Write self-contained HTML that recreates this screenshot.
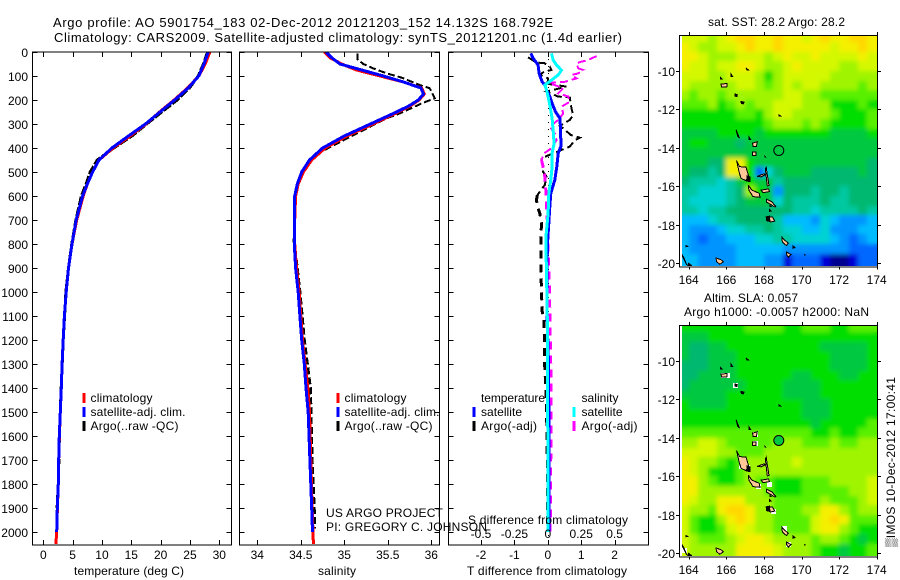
<!DOCTYPE html>
<html lang="en">
<head>
<meta charset="utf-8">
<title>Argo profile 5901754_183</title>
<style>
html,body{margin:0;padding:0;background:#fff;}
svg{display:block;}
text{font-family:"Liberation Sans",Arial,sans-serif;font-size:12px;fill:#000;}
</style>
</head>
<body>
<svg id="fig" xmlns="http://www.w3.org/2000/svg" width="900" height="580" viewBox="0 0 900 580">
<rect x="0" y="0" width="900" height="580" fill="#fff"/>
<defs>
<clipPath id="clip-map1"><rect x="682" y="35" width="195.3" height="231"/></clipPath>
<clipPath id="clip-map2"><rect x="682" y="325" width="195.3" height="231"/></clipPath>
<clipPath id="clip-box1"><rect x="32" y="52" width="199" height="493"/></clipPath>
<clipPath id="clip-box2"><rect x="239" y="52" width="200" height="493"/></clipPath>
<clipPath id="clip-box3"><rect x="448" y="52" width="200" height="493"/></clipPath>
<filter id="smooth" x="-5%" y="-5%" width="110%" height="110%"><feGaussianBlur stdDeviation="2.5"/></filter>
</defs>
<text x="53" y="27" style="font-size:13px" textLength="500" lengthAdjust="spacing">Argo profile: AO 5901754_183 02-Dec-2012 20121203_152 14.132S 168.792E</text>
<text x="54" y="42" style="font-size:13px" textLength="568" lengthAdjust="spacing">Climatology: CARS2009. Satellite-adjusted climatology: synTS_20121201.nc (1.4d earlier)</text>
<g id="layer-data"></g>
<text x="74" y="575" textLength="110" lengthAdjust="spacing">temperature (deg C)</text>
<text x="318" y="575" textLength="38" lengthAdjust="spacing">salinity</text>
<text x="467" y="575" textLength="160" lengthAdjust="spacing">T difference from climatology</text>
<text x="468" y="524" textLength="160" lengthAdjust="spacing">S difference from climatology</text>
<text x="326" y="517" textLength="117" lengthAdjust="spacing">US ARGO PROJECT</text>
<text x="326" y="531" textLength="161" lengthAdjust="spacing">PI: GREGORY C. JOHNSON</text>

<g>
<rect x="82.5" y="393" width="3" height="10" fill="#ff0000"/>
<rect x="82.5" y="407" width="3" height="10" fill="#0000ff"/>
<rect x="82.5" y="421" width="3" height="10" fill="#000"/>
<text x="90.5" y="402" textLength="62" lengthAdjust="spacing">climatology</text>
<text x="90.5" y="416" textLength="95" lengthAdjust="spacing">satellite-adj. clim.</text>
<text x="90.5" y="430" textLength="88" lengthAdjust="spacing">Argo(..raw -QC)</text>
</g>
<g>
<rect x="336.5" y="393" width="3" height="10" fill="#ff0000"/>
<rect x="336.5" y="407" width="3" height="10" fill="#0000ff"/>
<rect x="336.5" y="421" width="3" height="10" fill="#000"/>
<text x="344.5" y="402" textLength="62" lengthAdjust="spacing">climatology</text>
<text x="344.5" y="416" textLength="95" lengthAdjust="spacing">satellite-adj. clim.</text>
<text x="344.5" y="430" textLength="88" lengthAdjust="spacing">Argo(..raw -QC)</text>
</g>
<g>
<text x="481" y="402" textLength="64" lengthAdjust="spacing">temperature</text>
<rect x="472.5" y="407" width="3" height="10" fill="#0000ff"/>
<rect x="472.5" y="421" width="3" height="10" fill="#000"/>
<text x="481" y="416" textLength="41" lengthAdjust="spacing">satellite</text>
<text x="481" y="430" textLength="56" lengthAdjust="spacing">Argo(-adj)</text>
<text x="581.5" y="402" textLength="37" lengthAdjust="spacing">salinity</text>
<rect x="572.5" y="407" width="3" height="10" fill="#00ffff"/>
<rect x="572.5" y="421" width="3" height="10" fill="#ff00ff"/>
<text x="581.5" y="416" textLength="41" lengthAdjust="spacing">satellite</text>
<text x="581.5" y="430" textLength="56" lengthAdjust="spacing">Argo(-adj)</text>
</g>

<text x="708" y="26" textLength="137" lengthAdjust="spacing">sat. SST: 28.2 Argo: 28.2</text>
<text x="704" y="302" textLength="94" lengthAdjust="spacing">Altim. SLA: 0.057</text>
<text x="684" y="316" textLength="185" lengthAdjust="spacing">Argo h1000: -0.0057 h2000: NaN</text>
<text transform="translate(895,547) rotate(-90)" textLength="170" lengthAdjust="spacing">▒IMOS 10-Dec-2012 17:00:41</text>
</svg>

<script>
// ---- profile data ----
const depthTicks = [0,100,200,300,400,500,600,700,800,900,1000,1100,1200,1300,1400,1500,1600,1700,1800,1900,2000];
const tempTicks = [0,5,10,15,20,25,30];
const salTicks = [34,34.5,35,35.5,36];
const salTickLabels = ['34','34.5','35','35.5','36'];
const tDiffTicks = [-2,-1,0,1,2];
const tDiffTickLabels = ['-2','-1','0','1','2'];
const sDiffTicks = [-0.5,-0.25,0,0.25,0.5];
const sDiffTickLabels = ['-0.5','-0.25','0','0.25','0.5'];

const tempDepth = [0,50,100,150,200,250,300,350,400,450,500,550,600,700,800,900,1000,1100,1200,1300,1400,1500,1600,1700,1800,1900,2000,2050];
const tempClim = [28.4,27.6,26.5,24.6,22.3,19.8,17.5,14.8,11.9,9.5,8.4,7.5,6.8,5.7,4.9,4.3,3.9,3.6,3.4,3.2,3.07,2.9,2.75,2.62,2.55,2.4,2.28,2.15];
const tempSat = [28.1,27.4,26.5,24.7,22.4,19.9,17.4,14.5,11.7,9.5,8.4,7.5,6.7,5.6,4.9,4.3,3.9,3.6,3.4,3.2,3.07,2.9,2.73,2.62,2.55,2.39,2.28];
const tempArgoDepth = [0,50,100,150,200,250,300,350,400,450,500,550,600,700,800,900,1000,1200,1400,1600,1800,1900];
const tempArgo = [28,27.3,26.4,24.9,22.8,20.2,17.6,15.1,12,9.2,8,7.3,6.5,5.55,4.85,4.3,3.85,3.4,3.05,2.75,2.55,2.35];

const salDepth = [0,25,50,75,100,125,150,175,200,225,250,300,350,400,450,500,550,600,700,800,900,1000,1100,1200,1300,1400,1500,1700,1900,2000,2050];
const salClim = [34.77,34.84,34.97,35.14,35.41,35.68,35.89,35.92,35.86,35.755,35.62,35.33,35.03,34.78,34.625,34.53,34.47,34.44,34.43,34.43,34.45,34.48,34.5,34.52,34.55,34.58,34.6,34.615,34.63,34.64,34.645];
const salSat = [34.79,34.86,34.95,35.2,35.45,35.68,35.88,35.91,35.85,35.74,35.6,35.3,35,34.75,34.6,34.51,34.46,34.43,34.425,34.425,34.44,34.47,34.49,34.51,34.54,34.56,34.585,34.605,34.625,34.635];
const salArgoDepth = [6,30,50,68,89,107,138,151,193,214,256,276,353,422,464,533,617,776];
const salArgo = [35.15,35.15,35.22,35.33,35.49,35.66,35.87,35.98,36.04,35.89,35.64,35.49,35.07,34.7,34.59,34.48,34.42,34.42];
const salArgoDeepDepth = [776,1000,1200,1400,1700,1950,1985];
const salArgoDeep = [34.42,34.49,34.54,34.61,34.63,34.66,34.66];

const tSatDepth = [6,26,54,89,124,138,158,186,214,249,276,311,367,394,422,478,533,589,644,714,776,900,1100,1300,1500,1700,1900,2000];
const tSatDiff = [-0.51,-0.44,-0.29,-0.26,-0.17,-0.09,-0.04,0.06,0.13,0.23,0.36,0.38,0.39,0.39,0.31,0.27,0.21,0.09,0.06,0.03,0.0,-0.03,-0.02,0.02,0.03,0.03,0.03,0.03];
const sSatDepth = [6,33,54,76,96,117,138,158,186,228,276,325,381,422,478,533,589,672,776,992,1158,1367,1600,1800,2000];
const sSatDiff = [0.0275,0.04,0.065,0.1025,0.078,0.0275,-0.0225,-0.01,0.0025,0.0175,0.0325,0.04,0.0475,0.0325,0.0325,0.0225,0.0075,0.0025,-0.015,-0.0075,-0.0025,-0.0025,0,0,0];
const tArgoDepth = [22,44,46,61,75,82,96,110,124,131,144,165,186,189,235,263,283,308,318,346,357,367,394,422,443,499,519,554,596];
const tArgoDiff = [-0.59,-0.34,-0.11,0.06,0.11,-0.11,-0.24,0.01,0.01,-0.09,0.56,-0.04,0.31,0.66,0.71,0.76,0.66,0.36,0.46,0.69,0.96,0.81,0.66,0.16,-0.19,-0.14,-0.04,-0.09,-0.31];
const tArgoDeepDepth = [596,617,651,672,714,776,900,1079,1117,1325,1367,1500,1600,1700,2000];
const tArgoDeepDiff = [-0.31,-0.34,-0.29,-0.24,-0.19,-0.21,-0.21,-0.17,-0.11,-0.09,-0.07,-0.04,-0.02,-0.015,0];
const sArgoDepth = [17,36,40,47,68,75,89,96,110,124,128,151,172,186,207,228,256,283,311,339,367,401,422,450];
const sArgoDiff = [0.365,0.29,0.2525,0.215,0.2275,0.265,0.2275,0.1775,0.215,0.1275,0.0025,0.115,0.0775,0.1525,0.165,0.1025,0.115,0.0775,0.015,0.0525,0.065,0.0275,-0.0275,-0.0475];
const sArgoDeepDepth = [450,478,519,575,644,714,776,992,1158,1367,1600,1800,2000];
const sArgoDeepDiff = [-0.0475,-0.035,-0.0225,-0.015,-0.01,-0.0025,0,0.0125,0.0175,0.025,0.024,0.02,0.018];

// ---- map data ----
const lonTicks = [164,166,168,170,172,174];
const latTicks = [-10,-12,-14,-16,-18,-20];
const mapCellLons = [163.5,164,164.5,165,165.5,166,166.5,167,167.5,168,168.5,169,169.5,170,170.5,171,171.5,172,172.5,173,173.5,174];
const mapCellLats = [-8,-8.5,-9,-9.5,-10,-10.5,-11,-11.5,-12,-12.5,-13,-13.5,-14,-14.5,-15,-15.5,-16,-16.5,-17,-17.5,-18,-18.5,-19,-19.5,-20.5];
const sstRows = [
[12,12,12,11,12,13,14,14,13,13,14,13,13,12,13,14,13,13,14,14,13],
[13,12,11,11,12,12,13,14,13,13,14,13,13,13,13,13,12,13,13,14,13],
[13,13,12,11,11,11,12,12,12,11,12,13,12,12,13,12,12,12,12,13,12],
[13,12,12,11,12,12,13,13,12,11,11,12,13,12,12,12,12,11,11,12,12],
[12,12,12,11,11,12,12,12,11,9,11,12,12,12,12,12,11,11,11,11,11],
[12,11,11,11,11,11,12,12,11,10,11,12,11,12,12,11,11,11,11,10,11],
[11,10,11,11,10,11,11,11,11,11,11,12,12,11,11,10,10,10,10,10,10],
[10,10,10,11,9,10,11,10,11,11,12,12,12,11,11,11,9,9,9,10,9],
[9,9,9,9,9,9,10,10,9,11,12,12,11,11,11,11,10,9,9,9,10],
[9,9,9,9,9,9,9,9,9,10,11,11,11,10,11,10,9,9,9,9,10],
[8,8,8,8,9,9,9,9,8,9,9,9,9,9,9,9,8,8,8,8,9],
[8,9,9,8,8,8,7,8,8,8,8,8,8,8,8,8,8,8,8,8,8],
[8,8,8,8,8,8,8,8,8,8,8,8,8,8,8,8,8,8,8,8,8],
[8,8,8,7,7,13,13,9,8,8,8,8,8,8,8,8,8,8,8,8,7],
[8,7,7,6,7,13,13,9,2,5,7,8,8,8,7,7,7,7,7,8,7],
[7,6,6,6,5,6,8,9,8,8,6,7,7,7,7,7,7,7,7,7,7],
[6,6,5,5,5,6,7,11,9,8,3,7,7,7,6,7,7,6,7,7,7],
[6,5,5,5,5,6,7,8,8,8,5,7,6,6,6,7,6,6,7,7,7],
[6,6,5,6,6,7,7,7,7,7,7,7,6,6,5,6,6,6,6,7,6],
[4,4,4,5,6,6,7,7,7,7,6,4,4,4,3,5,4,3,3,3,4],
[4,3,3,3,4,5,5,6,6,7,6,5,5,4,4,5,3,3,3,4,4],
[4,3,2,3,3,4,4,4,5,5,6,6,5,5,5,5,4,3,2,3,4],
[4,3,3,3,3,3,4,4,4,4,4,3,3,3,3,3,3,3,2,2,2],
[4,4,3,3,3,3,4,4,4,3,3,1,2,2,2,1,0,0,1,2,2]
];
const slaRows = [
[9,9,9,9,9,9,9,10,10,10,10,9,9,10,10,10,9,9,10,10,10],
[8,8,8,9,9,9,9,9,9,9,9,9,9,9,9,9,9,9,9,9,9],
[8,7,7,8,8,9,9,9,9,9,9,9,9,9,9,8,8,8,8,8,9],
[8,7,7,8,8,8,9,9,9,9,9,9,9,9,9,9,8,8,8,8,9],
[7,7,7,8,8,8,9,9,9,9,9,9,9,9,9,9,8,8,8,8,9],
[7,7,8,8,8,8,9,9,9,9,9,9,8,8,9,9,9,8,8,9,9],
[7,8,8,8,8,8,8,9,9,9,9,8,8,8,8,9,9,9,9,9,9],
[8,8,8,8,8,9,9,9,9,9,9,8,8,8,8,9,9,9,9,9,9],
[9,8,8,8,8,9,9,9,9,9,9,9,9,8,8,8,9,9,9,9,9],
[9,9,9,9,9,9,9,9,9,9,9,9,9,8,8,8,9,9,9,9,9],
[9,9,9,9,9,9,9,9,9,9,9,9,9,9,8,9,9,9,9,9,10],
[10,10,10,10,10,10,10,10,10,10,10,10,10,10,9,9,10,9,9,10,10],
[11,11,12,12,11,10,10,10,10,10,11,11,11,10,10,10,11,10,10,11,11],
[12,12,12,12,11,11,10,10,10,11,11,11,11,11,11,11,11,11,11,11,11],
[13,12,11,11,10,9,10,11,11,11,11,11,12,11,11,11,11,11,11,11,11],
[13,12,11,9,9,9,10,11,11,11,11,11,11,11,11,11,11,11,11,11,11],
[13,13,11,10,9,9,10,11,10,10,9,9,9,10,10,10,11,11,11,11,12],
[13,13,11,11,11,11,11,11,11,10,9,9,9,10,10,10,10,10,11,11,12],
[13,12,11,11,13,13,13,11,11,11,10,10,10,10,10,11,10,10,10,11,12],
[12,11,11,10,13,14,14,13,11,11,10,10,10,11,11,13,13,11,10,11,11],
[12,10,9,9,11,13,14,13,11,11,10,10,10,10,12,13,14,13,10,10,10],
[12,10,9,9,10,12,13,12,11,11,10,10,10,10,12,13,13,11,10,9,9],
[12,11,10,10,10,11,12,13,13,12,11,11,11,11,10,11,11,10,9,8,9],
[12,11,11,11,11,11,13,13,13,13,12,11,11,11,10,9,9,8,9,9,10]
];
const slaMissingLon = [166.38,165.7,165.95,167.4,167.4,166.7,167.0,167.6,168.15,168.95,169.2,163.65,168.4];
const slaMissingLat = [-11.12,-10.62,-10.62,-13.7,-14.15,-15.35,-15.4,-16.4,-16.3,-18.6,-19.4,-19.75,-17.7];
const floatLon = 168.792;
const floatLat = -14.132;

const islandShapes = [
[[166.55,-14.66],[166.7,-14.97],[167.05,-15.0],[167.2,-15.5],[167.22,-15.65],[167.05,-15.7],[166.78,-15.58],[166.68,-15.25]],
[[167.17,-15.93],[167.35,-16.19],[167.75,-16.36],[167.79,-16.57],[167.42,-16.53],[167.2,-16.2]],
[[168.15,-16.67],[168.42,-16.8],[168.62,-17.03],[168.58,-17.07],[168.3,-16.9],[168.14,-16.82]],
[[168.15,-17.6],[168.45,-17.58],[168.58,-17.8],[168.35,-17.85],[168.17,-17.75]],
[[168.97,-18.65],[169.1,-18.8],[169.3,-18.95],[169.2,-19.08],[168.98,-18.9]],
[[169.2,-19.42],[169.45,-19.55],[169.3,-19.68],[169.22,-19.58]],
[[167.65,-15.48],[168.0,-15.35],[168.1,-15.38],[167.85,-15.5]],
[[168.12,-15.0],[168.18,-15.4],[168.27,-15.95],[168.18,-15.98],[168.12,-15.5],[168.08,-15.1]],
[[167.85,-16.2],[168.25,-16.13],[168.3,-16.27],[167.95,-16.33]],
[[167.4,-14.2],[167.58,-14.2],[167.58,-14.4],[167.4,-14.4]],
[[167.4,-13.75],[167.65,-13.68],[167.6,-13.92],[167.42,-13.92]],
[[165.72,-10.68],[166.05,-10.65],[166.02,-10.84],[165.75,-10.84]],
[[165.45,-19.72],[165.72,-19.82],[165.85,-19.92],[165.65,-20.05],[165.48,-19.9]]
];
const darkIslandShapes = [
[[167.1,-15.45],[167.25,-15.5],[167.25,-15.75],[167.08,-15.72]],
[[168.12,-17.58],[168.3,-17.55],[168.32,-17.82],[168.14,-17.78]],
[[166.46,-11.2],[166.58,-11.22],[166.56,-11.33],[166.46,-11.3]],
[[166.78,-11.58],[166.95,-11.62],[166.9,-11.72],[166.8,-11.68]],
[[166.52,-13.05],[166.62,-13.3],[166.7,-13.5],[166.6,-13.38]],
[[167.22,-13.45],[167.28,-13.55],[167.22,-13.55]],
[[167.05,-9.85],[167.18,-9.95],[167.1,-9.95]],
[[166.25,-10.15],[166.33,-10.28],[166.25,-10.28]],
[[165.7,-10.35],[165.78,-10.42],[165.7,-10.42]],
[[168.8,-12.28],[168.88,-12.33],[168.8,-12.33]],
[[168.05,-14.42],[168.1,-14.48],[168.05,-14.48]],
[[168.33,-17.0],[168.38,-17.05],[168.33,-17.05]],
[[168.3,-17.2],[168.38,-17.28],[168.3,-17.3]],
[[169.55,-19.1],[169.65,-19.18],[169.55,-19.22]],
[[170.15,-19.55],[170.22,-19.58],[170.15,-19.58]],
[[163.85,-19.08],[163.95,-19.12],[163.85,-19.14]],
[[163.55,-19.4],[163.75,-19.72],[163.9,-20.1]],
[[164.0,-20.0],[164.15,-20.12],[164.05,-20.2],[163.95,-20.1]]
];
const colourScale = ['#000090','#0000d8','#0068ff','#0094ff','#00bcff','#00d2d2','#00c8a0','#00b870','#00c840','#00de00','#58f000','#a0f400','#d4f800','#f4f000','#ffd800'];

// ---- drawing ----
const NS = 'http://www.w3.org/2000/svg';
const layer = document.getElementById('layer-data');
function mk(tag, attrs, parent, name) {
  const el = document.createElementNS(NS, tag);
  for (const k in attrs) el.setAttribute(k, attrs[k]);
  
  
  (parent || layer).appendChild(el);
  return el;
}
function linear(d0, d1, r0, r1) { return v => r0 + (v - d0) * (r1 - r0) / (d1 - d0); }
const yDepth = linear(0, 2000, 52, 532);
const xTemp = linear(0, 30, 43.3, 219.3);
const xSal = linear(34, 36, 257.3, 431.3);
const xTDiff = linear(-2, 2, 481, 614.6);
const xSDiff = linear(-0.5, 0.5, 481, 614.6);

function hLine(x1, x2, y, p, name) { return mk('line', {x1:x1, x2:x2, y1:y, y2:y, stroke:'#000', 'stroke-width':1, 'shape-rendering':'crispEdges'}, p, name); }
function vLine(x, y1, y2, p, name) { return mk('line', {x1:x, x2:x, y1:y1, y2:y2, stroke:'#000', 'stroke-width':1, 'shape-rendering':'crispEdges'}, p, name); }
function label(x, y, str, anchor, p, name) {
  const t = mk('text', {x:x, y:y, 'text-anchor':anchor}, p, name);
  t.textContent = str;
  return t;
}

function profileAxes(panelName, L, R, xs, xVals, xLabels, showDepth, clipId) {
  const g = mk('g', {}, layer, panelName);
  const T = 52, B = 545;
  const series = mk('g', {'clip-path':'url(#' + clipId + ')'}, g, panelName + '-series');
  depthTicks.forEach(d => {
    const y = Math.round(yDepth(d)) + 0.5;
    hLine(L, L + 5, y, g, 'y-tick');
    hLine(R - 5, R, y, g, 'y-tick');
    if (showDepth) label(28, y + 4.5, String(d), 'end', g, 'depth-tick-label');
  });
  xVals.forEach((v, i) => {
    const x = Math.round(xs(v)) + 0.5;
    vLine(x, T, T + 5, g, 'x-tick');
    vLine(x, B - 5, B, g, 'x-tick');
    label(xs(v), 559, xLabels[i], 'middle', g, 'x-tick-label');
  });
  mk('rect', {x:L, y:T, width:R - L, height:B - T, fill:'none', stroke:'#000', 'stroke-width':1, 'shape-rendering':'crispEdges'}, g, panelName + '-frame');
  return series;
}
function polyline(parent, depths, vals, xs, colour, width, dash, name) {
  const pts = vals.map((v, i) => xs(v).toFixed(1) + ',' + yDepth(depths[i]).toFixed(1)).join(' ');
  const a = {points:pts, fill:'none', stroke:colour, 'stroke-width':width, 'shape-rendering':'crispEdges'};
  if (dash) a['stroke-dasharray'] = dash;
  return mk('polyline', a, parent, name);
}

const s1 = profileAxes('temperature-panel', 32.5, 231.5, xTemp, tempTicks, tempTicks.map(String), true, 'clip-box1');
polyline(s1, tempArgoDepth, tempArgo, xTemp, '#000', 3, '9 2', 'temperature-argo-line');
polyline(s1, tempDepth, tempClim, xTemp, '#ff0000', 3, null, 'temperature-climatology-line');
polyline(s1, tempDepth.slice(0, tempSat.length), tempSat, xTemp, '#0000ff', 3, null, 'temperature-satellite-line');

const s2 = profileAxes('salinity-panel', 239.5, 439.5, xSal, salTicks, salTickLabels, false, 'clip-box2');
polyline(s2, salArgoDepth, salArgo, xSal, '#000', 2, '7 3', 'salinity-argo-line');
polyline(s2, salArgoDeepDepth, salArgoDeep, xSal, '#000', 3, '7 3', 'salinity-argo-deep-line');
polyline(s2, salDepth, salClim, xSal, '#ff0000', 3, null, 'salinity-climatology-line');
polyline(s2, salDepth.slice(0, salSat.length), salSat, xSal, '#0000ff', 3, null, 'salinity-satellite-line');

const s3 = profileAxes('difference-panel', 448.5, 648.5, xTDiff, tDiffTicks, tDiffTickLabels, false, 'clip-box3');
mk('line', {x1:xTDiff(0) + 0.5, x2:xTDiff(0) + 0.5, y1:52, y2:545, stroke:'#000', 'stroke-width':1, 'stroke-dasharray':'1 6', 'shape-rendering':'crispEdges'}, s3, 'zero-reference-line');
polyline(s3, tArgoDepth, tArgoDiff, xTDiff, '#000', 2, '8 4', 't-difference-argo-line');
polyline(s3, tArgoDeepDepth, tArgoDeepDiff, xTDiff, '#000', 3, '8 6', 't-difference-argo-deep-line');
polyline(s3, sArgoDepth, sArgoDiff, xSDiff, '#ff00ff', 2, '8 4', 's-difference-argo-line');
polyline(s3, sArgoDeepDepth, sArgoDeepDiff, xSDiff, '#ff00ff', 3, '8 6', 's-difference-argo-deep-line');
polyline(s3, tSatDepth, tSatDiff, xTDiff, '#0000ff', 3, null, 't-difference-satellite-line');
polyline(s3, sSatDepth, sSatDiff, xSDiff, '#00ffff', 3, null, 's-difference-satellite-line');
sDiffTicks.forEach((v, i) => label(xSDiff(v), 538, sDiffTickLabels[i], 'middle', layer, 's-difference-tick-label'));

function drawMap(mapName, top, rows, clipId, missing, markerFill) {
  const g = mk('g', {}, layer, mapName);
  const xLon = linear(164, 174, 688.7, 876.7);
  const yLat = linear(-10, -20, top + 36, top + 228.3);
  const bottom = top + 231.5;
  const clip = mk('g', {'clip-path':'url(#' + clipId + ')'}, g, mapName + '-plot-area');
  const cells = mk('g', {id:mapName + '-cells'}, clip, mapName + '-cells');
  rows.forEach((row, j) => {
    row.forEach((v, i) => {
      const x0 = Math.round(xLon(mapCellLons[i]));
      const x1 = Math.round(xLon(mapCellLons[i + 1]));
      const y0 = Math.round(yLat(mapCellLats[j]));
      const y1 = Math.round(yLat(mapCellLats[j + 1]));
      mk('rect', {x:x0, y:y0, width:x1 - x0, height:y1 - y0, fill:colourScale[v], 'shape-rendering':'crispEdges'}, cells, 'map-cell');
    });
  });
  mk('use', {href:'#' + mapName + '-cells', filter:'url(#smooth)'}, clip, mapName + '-smoothed-field');
  if (missing) {
    slaMissingLon.forEach((lon, i) => {
      mk('rect', {x:Math.round(xLon(lon)), y:Math.round(yLat(slaMissingLat[i])), width:5, height:5, fill:'#fff', 'shape-rendering':'crispEdges'}, clip, 'missing-data-cell');
    });
  }
  islandShapes.forEach(shape => {
    const pts = shape.map(p => xLon(p[0]).toFixed(1) + ',' + yLat(p[1]).toFixed(1)).join(' ');
    mk('polygon', {points:pts, fill:'#ffc896', stroke:'#000', 'stroke-width':1, 'shape-rendering':'crispEdges'}, clip, 'island');
  });
  darkIslandShapes.forEach(shape => {
    const pts = shape.map(p => xLon(p[0]).toFixed(1) + ',' + yLat(p[1]).toFixed(1)).join(' ');
    mk('polygon', {points:pts, fill:'#000', stroke:'#000', 'stroke-width':1, 'shape-rendering':'crispEdges'}, clip, 'small-island');
  });
  mk('circle', {cx:xLon(floatLon), cy:yLat(floatLat), r:5, fill:markerFill, stroke:'#000', 'stroke-width':1}, g, 'argo-float-marker');
  mk('rect', {x:679.5, y:top + 0.5, width:198, height:231.5, fill:'none', stroke:'#000', 'stroke-width':1, 'shape-rendering':'crispEdges'}, g, mapName + '-frame');
  lonTicks.forEach(lon => {
    const x = Math.round(xLon(lon)) + 0.5;
    vLine(x, top - 3, top, g, 'lon-tick');
    vLine(x, bottom, bottom + 3, g, 'lon-tick');
    label(xLon(lon), top + 249, String(lon), 'middle', g, 'lon-tick-label');
  });
  latTicks.forEach(lat => {
    const y = Math.round(yLat(lat)) + 0.5;
    hLine(676, 679, y, g, 'lat-tick');
    hLine(878, 881, y, g, 'lat-tick');
    label(675, y + 4.5, String(lat), 'end', g, 'lat-tick-label');
  });
}
drawMap('sst-map', 35, sstRows, 'clip-map1', false, 'none');
drawMap('sla-map', 325, slaRows, 'clip-map2', true, '#00c840');
</script>
</body>
</html>
